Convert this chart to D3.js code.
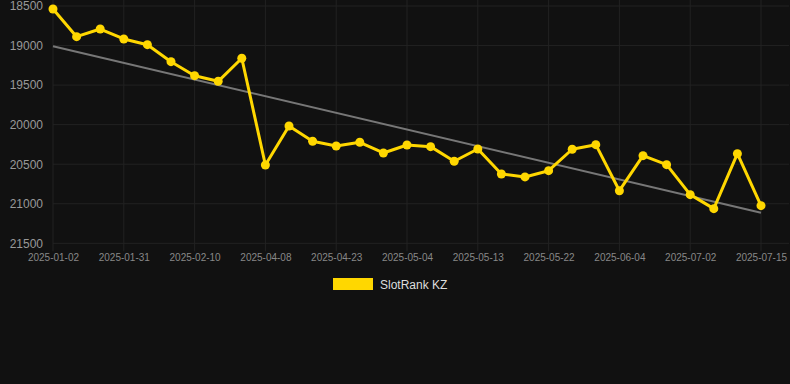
<!DOCTYPE html>
<html><head><meta charset="utf-8">
<script src="https://cdn.jsdelivr.net/npm/d3@7"></script>
<style>html,body{margin:0;padding:0;background:#111111;}svg{display:block;}</style>
</head><body>
<svg id="chart" width="790" height="384"></svg>
<script>
const dates = ["2025-01-02","2025-01-09","2025-01-16","2025-01-31","2025-02-03","2025-02-05","2025-02-10","2025-02-17","2025-03-01","2025-04-08","2025-04-12","2025-04-17","2025-04-23","2025-04-26","2025-04-30","2025-05-04","2025-05-07","2025-05-10","2025-05-13","2025-05-16","2025-05-19","2025-05-22","2025-05-26","2025-05-30","2025-06-04","2025-06-12","2025-06-20","2025-07-02","2025-07-06","2025-07-10","2025-07-15"];
const tickLabels = ["2025-01-02","2025-01-31","2025-02-10","2025-04-08","2025-04-23","2025-05-04","2025-05-13","2025-05-22","2025-06-04","2025-07-02","2025-07-15"];
const rankValues = [18538,18888,18791,18917,18989,19204,19381,19452,19161,20510,20017,20210,20270,20223,20358,20257,20278,20463,20308,20624,20661,20582,20311,20253,20835,20392,20506,20885,21062,20367,21024];
const trendValues = [19009,21113];
const yTicks = [18500,19000,19500,20000,20500,21000,21500];
const seriesName = "SlotRank KZ";

const svg = d3.select("#chart");
const mLeft = 53, mRight = 761, mTop = 6, mBottom = 243.3;
const idx = d3.range(dates.length);
const x = d3.scalePoint().domain(idx).range([mLeft, mRight]);
const y = d3.scaleLinear().domain([18500, 21500]).range([mTop, mBottom]);

// grid
const tickIdx = idx.filter(i => tickLabels.includes(dates[i]));
svg.append("g").selectAll("line").data(yTicks).join("line")
  .attr("x1", mLeft).attr("x2", mRight + 28).attr("y1", d => y(d)).attr("y2", d => y(d))
  .attr("stroke", "#222222").attr("stroke-width", 1);
svg.append("g").selectAll("line").data(tickIdx).join("line")
  .attr("x1", i => x(i)).attr("x2", i => x(i)).attr("y1", 0).attr("y2", mBottom + 8)
  .attr("stroke", "#222222").attr("stroke-width", 1);

// y axis labels
const yAxis = d3.axisLeft(y).tickValues(yTicks).tickSize(0).tickPadding(0).tickFormat(d3.format("d"));
const gy = svg.append("g").attr("transform", `translate(43,0)`).call(yAxis);
gy.select(".domain").remove();
gy.selectAll("text").attr("fill", "#999999").attr("font-family", "Liberation Sans, Arial, sans-serif").attr("font-size", 12);

// x axis labels
const xAxis = d3.axisBottom(x).tickValues(tickIdx).tickSize(0).tickPadding(0).tickFormat(i => dates[i]);
const gx = svg.append("g").attr("transform", `translate(0,254)`).call(xAxis);
gx.select(".domain").remove();
gx.selectAll("text").attr("fill", "#888888").attr("font-family", "Liberation Sans, Arial, sans-serif").attr("font-size", 10);

// trend
const tx = d3.scaleLinear().domain([0, 1]).range([x(0), x(dates.length - 1)]);
svg.append("path").datum(trendValues)
  .attr("d", d3.line().x((d, i) => tx(i)).y(d => y(d)))
  .attr("fill", "none").attr("stroke", "#777777").attr("stroke-width", 2);

// series
svg.append("path").datum(rankValues)
  .attr("d", d3.line().x((d, i) => x(i)).y(d => y(d)))
  .attr("fill", "none").attr("stroke", "#FFD700").attr("stroke-width", 3).attr("stroke-linejoin", "round");
svg.append("g").selectAll("circle").data(rankValues).join("circle")
  .attr("cx", (d, i) => x(i)).attr("cy", d => y(d)).attr("r", 4.5).attr("fill", "#FFD700");

// legend
svg.append("rect").attr("x", 333).attr("y", 278).attr("width", 40).attr("height", 12).attr("fill", "#FFD700");
svg.append("text").attr("x", 380).attr("y", 288.5).text(seriesName)
  .attr("fill", "#dddddd").attr("font-family", "Liberation Sans, Arial, sans-serif").attr("font-size", 12);
</script>
</body></html>
